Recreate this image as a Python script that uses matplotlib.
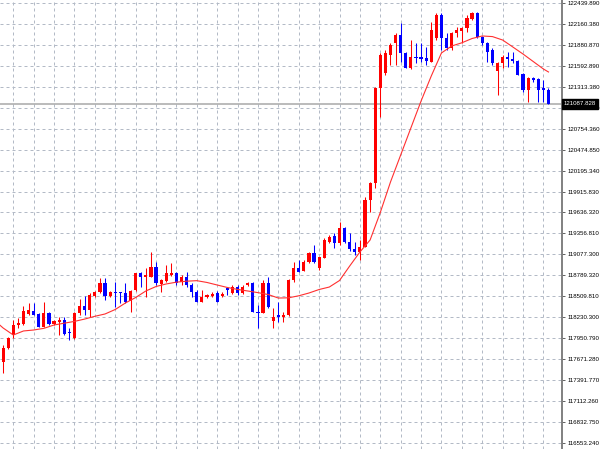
import numpy as np
import matplotlib.pyplot as plt
from matplotlib.transforms import blended_transform_factory

# OHLC values (one entry per bar, oldest first)
opens = [117643, 117822, 118000, 118134, 118147, 118281, 118325, 118276, 118111, 118289,
         118147, 118178, 118200, 118036, 117956, 118289, 118392, 118334, 118521, 118579,
         118691, 118521, 118579, 118571, 118557, 118458, 118601, 118824, 118779, 118779,
         118913, 118681, 118726, 118802, 118832, 118712, 118779, 118668, 118579, 118445,
         118512, 118525, 118557, 118521, 118624, 118557, 118645, 118557, 118668, 118691,
         118311, 118294, 118691, 118191, 118267, 118236, 118267, 118735, 118891, 118860,
         118980, 119091, 118891, 119025, 119247, 119323, 119225, 119426, 119247, 119145,
         119113, 119180, 119804, 120027, 121296, 121496, 121741, 121897, 122008, 121764,
         121563, 121718, 121710, 121697, 121651, 121964, 122275, 121964, 121830, 122039,
         122066, 122098, 122218, 122306, 121985, 121897, 121808, 121531, 121630, 121710,
         121683, 121665, 121487, 121273, 121430, 121416, 121296, 121273]
highs = [117866, 117973, 118200, 118227, 118388, 118428, 118424, 118294, 118445, 118311,
         118200, 118245, 118240, 118089, 118311, 118481, 118525, 118557, 118588, 118758,
         118758, 118588, 118712, 118579, 118691, 118600, 118828, 118841, 118891, 119113,
         118980, 118748, 118935, 118958, 118846, 118802, 118846, 118691, 118601, 118601,
         118548, 118575, 118588, 118575, 118645, 118668, 118668, 118668, 118708, 118708,
         118401, 118735, 118779, 118356, 118445, 118311, 118748, 118980, 119002, 119002,
         119113, 119202, 119047, 119292, 119336, 119359, 119514, 119447, 119359, 119247,
         119269, 119848, 120044, 121313, 121768, 121808, 121901, 122035, 122168, 121785,
         121941, 121897, 121897, 121852, 122186, 122298, 122298, 122031, 122052, 122119,
         122119, 122275, 122319, 122319, 121995, 121919, 121830, 121651, 121741, 121785,
         121785, 121674, 121496, 121451, 121451, 121430, 121407, 121296]
lows = [117492, 117809, 117960, 118094, 118134, 118267, 118267, 118107, 118107, 118134,
        118134, 118000, 118000, 117933, 117947, 118267, 118267, 118245, 118508, 118557,
        118468, 118508, 118378, 118424, 118424, 118311, 118588, 118645, 118512, 118775,
        118668, 118579, 118712, 118788, 118668, 118668, 118645, 118512, 118441, 118441,
        118494, 118508, 118441, 118508, 118534, 118548, 118534, 118548, 118655, 118307,
        118089, 118289, 118356, 118089, 118178, 118178, 118254, 118712, 118846, 118855,
        118958, 118958, 118869, 119025, 119225, 119158, 119203, 119225, 119126, 119069,
        119002, 119176, 119647, 119964, 120913, 121474, 121607, 121607, 121651, 121563,
        121554, 121630, 121651, 121607, 121647, 121941, 121808, 121808, 121808, 121985,
        121897, 122052, 122209, 121964, 121875, 121651, 121607, 121206, 121563, 121585,
        121630, 121474, 121251, 121117, 121384, 121117, 121117, 121080]
closes = [117822, 117956, 118134, 118156, 118325, 118334, 118267, 118111, 118289, 118147,
          118187, 118200, 118013, 118022, 118289, 118392, 118334, 118534, 118579, 118691,
          118521, 118579, 118565, 118557, 118445, 118592, 118824, 118779, 118802, 118913,
          118691, 118735, 118824, 118832, 118691, 118779, 118668, 118579, 118445, 118512,
          118534, 118548, 118445, 118548, 118601, 118645, 118565, 118645, 118691, 118311,
          118298, 118691, 118378, 118245, 118245, 118267, 118735, 118891, 118846, 118980,
          119091, 118980, 119047, 119269, 119314, 119225, 119426, 119247, 119145, 119113,
          119180, 119804, 120027, 121296, 121741, 121764, 121874, 122008, 121764, 121563,
          121718, 121697, 121683, 121665, 122075, 122275, 121964, 121830, 122031, 122075,
          122098, 122231, 122298, 121985, 121897, 121785, 121630, 121630, 121718, 121683,
          121665, 121474, 121273, 121430, 121407, 121273, 121273, 121087.828]

# moving average line, read at every second bar (plus the last one)
ma_bars = [-0.6] + list(range(0, 107, 2)) + [107]
ma_values = [118130, 118094, 118000, 118054, 118067, 118089, 118134, 118158, 118182, 118213,
             118250, 118281, 118341, 118428, 118501, 118588, 118648, 118682, 118706, 118719,
             118726, 118702, 118668, 118635, 118609, 118588, 118566, 118541, 118494, 118497,
             118524, 118561, 118608, 118641, 118728, 118922, 119109, 119269, 119637, 120044,
             120405, 120766, 121126, 121460, 121768, 121861, 121904, 121961, 121995, 121987,
             121941, 121848, 121754, 121654, 121554, 121514]

tick_labels = ['122439.890', '122160.380', '121880.870', '121592.890', '121313.380',
               '121033.870', '120754.360', '120474.850', '120195.340', '119915.830',
               '119636.320', '119356.810', '119077.300', '118789.320', '118509.810',
               '118230.300', '117950.790', '117671.280', '117391.770', '117112.260',
               '116832.750', '116553.240']
last_price = '121087.828'

up_col = '#ff0000'
down_col = '#0000ff'
grid_col = '#b3bac6'

o = np.array(opens)
h = np.array(highs)
l = np.array(lows)
c = np.array(closes)
x = np.arange(len(o))
up = c >= o
cols = np.where(up, up_col, down_col)

fig = plt.figure(figsize=(6, 4.49), dpi=100)
ax = fig.add_axes([0, 0, 562 / 600, 1])

# wicks and bodies
ax.vlines(x, l, h, colors=cols, linewidth=0.75, zorder=3)
body_low = np.minimum(o, c)
body_h = np.maximum(np.abs(c - o), 14)
ax.bar(x, body_h, bottom=body_low, width=0.62, color=cols, linewidth=0, zorder=4)

ax.plot(ma_bars, ma_values, color='#ff3030', linewidth=0.8, zorder=5)

# current price line
ax.axhline(float(last_price), color='#a8a8a8', linewidth=1.1, zorder=2)

ax.set_xlim(-0.61, 109.65)
ax.set_ylim(116477.1, 122475.7)

yt = np.linspace(116553.24, 122439.89, len(tick_labels))
ax.set_yticks(yt)
ax.set_yticklabels(tick_labels[::-1])
ax.set_xticks(np.arange(2, len(o), 4))
ax.set_xticklabels([])

ax.yaxis.tick_right()
ax.tick_params(axis='y', direction='out', length=2.5, width=0.7, color='#606060',
               pad=1.2, labelsize=4.4, labelcolor='#000000')
ax.tick_params(axis='x', length=0)
for lab in ax.get_yticklabels():
    lab.set_fontfamily('Liberation Sans')

ax.grid(True, color=grid_col, linestyle=(0, (3, 3)), linewidth=0.72, zorder=0)
ax.set_axisbelow(True)

for s in ['left', 'top', 'bottom']:
    ax.spines[s].set_visible(False)
ax.spines['right'].set_color('#808080')
ax.spines['right'].set_linewidth(1.4)

# last price tag on the axis
trans = blended_transform_factory(ax.transAxes, ax.transData)
ax.text(1.003, float(last_price), last_price, transform=trans, ha='left', va='center',
        fontsize=4.4, family='Liberation Sans', color='white', zorder=10,
        bbox=dict(boxstyle='square,pad=0.35', facecolor='black', edgecolor='black'),
        clip_on=False)

fig.savefig('out.png', dpi=100)
